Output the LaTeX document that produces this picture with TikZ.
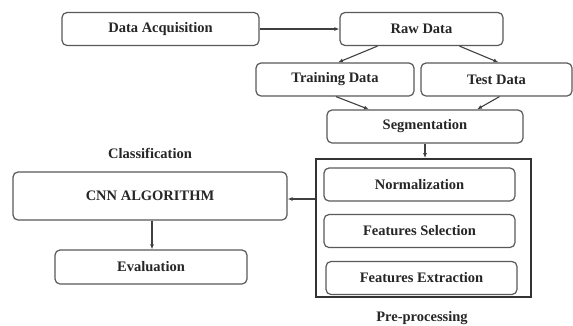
\documentclass[tikz,border=0pt]{standalone}
\usepackage{fontspec}
\setmainfont{Liberation Serif}
\usetikzlibrary{arrows.meta}
\begin{document}
\begin{tikzpicture}[x=1pt,y=-1pt,
    font=\fontsize{14.5}{17}\selectfont\bfseries,
    stage/.style={draw=black!65, line width=1.2pt, rounded corners=5pt, fill=white,
                  minimum height=33pt, inner sep=0pt, text=black!85},
    flow/.style={-{Latex[length=5pt,width=4pt]}, draw=black!75, line width=1.1pt},
    caption/.style={text=black!85}]
    \useasboundingbox (0,0) rectangle (573,325);
    \node[stage, minimum width=197pt] (acq) at (160.5,29) {Data Acquisition};
    \node[stage, minimum width=163pt] (raw) at (421.5,29) {Raw Data};
    \node[stage, minimum width=158pt] (train) at (335,79.5) {Training Data};
    \node[stage, minimum width=151pt] (test) at (496.5,79.5) {Test Data};
    \node[stage, minimum width=196pt] (seg) at (425,126.5) {Segmentation};
    \node[draw=black!80, line width=1.8pt, minimum width=215pt, minimum height=138pt,
          inner sep=0pt] (pre) at (423.5,228) {};
    \node[stage, minimum width=191pt] (norm) at (419.5,184.5) {Normalization};
    \node[stage, minimum width=191pt] (sel) at (419.5,231) {Features Selection};
    \node[stage, minimum width=191pt] (ext) at (421.5,278) {Features Extraction};
    \node[caption] (prelabel) at (422,318) {Pre-processing};
    \node[caption] (classlabel) at (150,153) {Classification};
    \node[stage, minimum width=274pt, minimum height=48pt] (cnn) at (150,196) {CNN ALGORITHM};
    \node[stage, minimum width=192pt, minimum height=34pt] (eval) at (151,267) {Evaluation};

    \draw[flow] (acq.east) -- (raw.west);
    \draw[flow] ([xshift=-44pt]raw.south) -- ([xshift=3pt]train.north);
    \draw[flow] ([xshift=38pt]raw.south) -- ([xshift=2pt]test.north);
    \draw[flow] ([xshift=1pt]train.south) -- ([xshift=-56pt]seg.north);
    \draw[flow] ([xshift=3pt]test.south) -- ([xshift=52pt]seg.north);
    \draw[flow] (seg.south) -- (seg.south |- pre.north);
    \draw[flow] ([yshift=-3pt]pre.west |- cnn.east) -- ([yshift=-3pt]cnn.east);
    \draw[flow] ([xshift=2pt]cnn.south) -- ([xshift=2pt]cnn.south |- eval.north);
\end{tikzpicture}
\end{document}
